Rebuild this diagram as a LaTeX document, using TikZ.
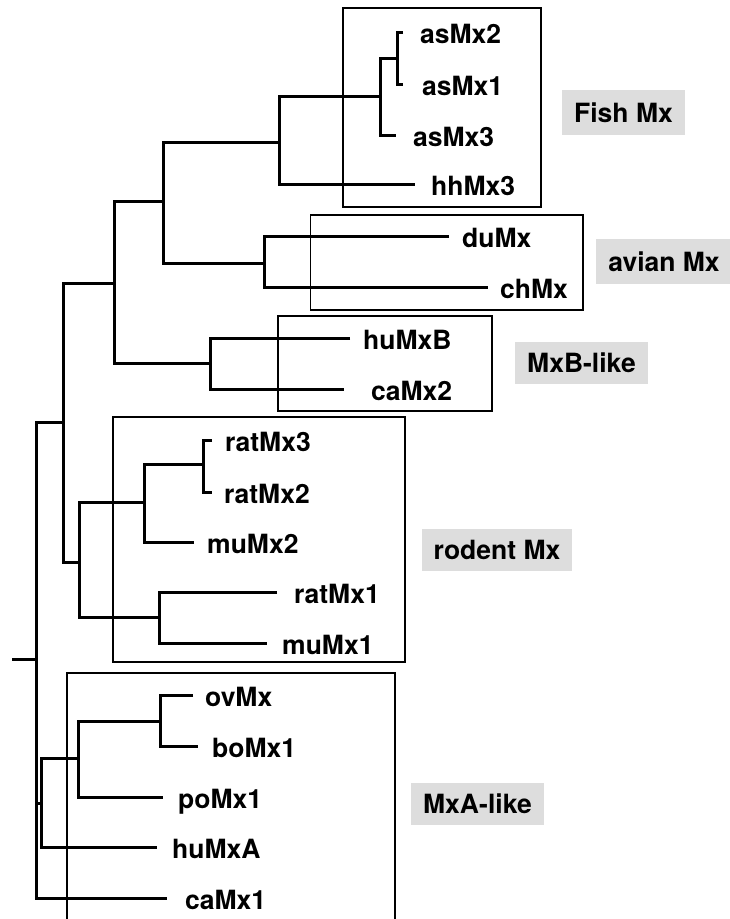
\documentclass[tikz,border=0pt]{standalone}
\usepackage{fontspec}
\setmainfont{TeX Gyre Heros}
\definecolor{labgray}{RGB}{221,221,221}
\begin{document}
\begin{tikzpicture}[x=1pt,y=-1pt,
  tree/.style={line width=3pt,line join=miter},
  clade/.style={draw,line width=1.7pt,inner sep=0pt,fill=none},
  leaf/.style={anchor=base west,inner sep=0pt,font=\fontsize{26.5}{26.5}\selectfont\bfseries},
  grouplab/.style={fill=labgray,inner sep=0pt,text height=19pt,text depth=0pt,font=\fontsize{26.5}{26.5}\selectfont\bfseries}]
\useasboundingbox (0,0) rectangle (729,919);
% clade boxes
\node[clade,minimum width=198pt,minimum height=199pt] (fishbox) at (442,107.5) {};
\node[clade,minimum width=272.5pt,minimum height=95pt] (avianbox) at (446.75,262.5) {};
\node[clade,minimum width=214pt,minimum height=95pt] (mxbbox) at (385,363.5) {};
\node[clade,minimum width=292pt,minimum height=245pt] (rodentbox) at (259,539.5) {};
\coordinate (mxaBL) at (67,925);
\coordinate (mxaTL) at (67,673);
\coordinate (mxaTR) at (395,673);
\coordinate (mxaBR) at (395,925);
\draw[line width=1.7pt] (mxaBL) -- (mxaTL) -- (mxaTR) -- (mxaBR);
% group labels
\node[grouplab,minimum width=123pt,minimum height=45pt] (fishlab) at (623.5,112.5) {Fish Mx};
\node[grouplab,minimum width=136pt,minimum height=45pt] (avianlab) at (664,261.5) {avian Mx};
\node[grouplab,minimum width=133pt,minimum height=42pt] (mxblab) at (581.5,363) {MxB-like};
\node[grouplab,minimum width=150pt,minimum height=42pt] (rodentlab) at (497,550) {rodent Mx};
\node[grouplab,minimum width=133pt,minimum height=42pt] (mxalab) at (477.5,804) {MxA-like};
% leaf labels
\node[leaf] (asMx2) at (420,43) {asMx2};
\node[leaf] (asMx1) at (422,95) {asMx1};
\node[leaf] (asMx3) at (413,146) {asMx3};
\node[leaf] (hhMx3) at (431,195) {hhMx3};
\node[leaf] (duMx) at (462,247) {duMx};
\node[leaf] (chMx) at (500,298) {chMx};
\node[leaf] (huMxB) at (363,349) {huMxB};
\node[leaf] (caMx2) at (371,400) {caMx2};
\node[leaf] (ratMx3) at (225,451) {ratMx3};
\node[leaf] (ratMx2) at (224,503) {ratMx2};
\node[leaf] (muMx2) at (207,553) {muMx2};
\node[leaf] (ratMx1) at (294,603) {ratMx1};
\node[leaf] (muMx1) at (282,654) {muMx1};
\node[leaf] (ovMx) at (205,706) {ovMx};
\node[leaf] (boMx1) at (212,757) {boMx1};
\node[leaf] (poMx1) at (178,808) {poMx1};
\node[leaf] (huMxA) at (172,858) {huMxA};
\node[leaf] (caMx1) at (185,909) {caMx1};
% leaf ends
\coordinate (e-asMx2) at (403,32);
\coordinate (e-asMx1) at (403,84);
\coordinate (e-asMx3) at (396,135);
\coordinate (e-hhMx3) at (415,184);
\coordinate (e-duMx) at (449,236);
\coordinate (e-chMx) at (488,287);
\coordinate (e-huMxB) at (350,338);
\coordinate (e-caMx2) at (344,389);
\coordinate (e-ratMx3) at (212,440);
\coordinate (e-ratMx2) at (212,492);
\coordinate (e-muMx2) at (194,542);
\coordinate (e-ratMx1) at (277,592);
\coordinate (e-muMx1) at (267,643);
\coordinate (e-ovMx) at (193,695);
\coordinate (e-boMx1) at (198,746);
\coordinate (e-poMx1) at (163,797);
\coordinate (e-huMxA) at (157,847);
\coordinate (e-caMx1) at (167,898);
% internal nodes
\coordinate (r0) at (12,659);
\coordinate (n0) at (36,659);
\coordinate (n1) at (63,422);
\coordinate (n2) at (114,283);
\coordinate (n3) at (163,201);
\coordinate (n4) at (279,142);
\coordinate (n5) at (380,96);
\coordinate (n6) at (397,58);
\coordinate (n7) at (264,263);
\coordinate (n8) at (210,363);
\coordinate (n9) at (79,562);
\coordinate (n10) at (144,502);
\coordinate (n11) at (203,464);
\coordinate (n12) at (159,617);
\coordinate (n13) at (41,803);
\coordinate (n14) at (78,758);
\coordinate (n15) at (160,721);
% tree
\draw[tree] (r0) -- (n0);
\draw[tree] (n1) -| (n0) |- (e-caMx1);
\draw[tree] (n0 |- n13) -- (n13);
\draw[tree] (n2) -| (n1) |- (n9);
\draw[tree] (n3) -| (n2) |- (n8);
\draw[tree] (n4) -| (n3) |- (n7);
\draw[tree] (n5) -| (n4) |- (e-hhMx3);
\draw[tree] (n6) -| (n5) |- (e-asMx3);
\draw[tree] (e-asMx2) -| (n6) |- (e-asMx1);
\draw[tree] (e-duMx) -| (n7) |- (e-chMx);
\draw[tree] (e-huMxB) -| (n8) |- (e-caMx2);
\draw[tree] (n10) -| (n9) |- (n12);
\draw[tree] (n11) -| (n10) |- (e-muMx2);
\draw[tree] (e-ratMx3) -| (n11) |- (e-ratMx2);
\draw[tree] (e-ratMx1) -| (n12) |- (e-muMx1);
\draw[tree] (n14) -| (n13) |- (e-huMxA);
\draw[tree] (n15) -| (n14) |- (e-poMx1);
\draw[tree] (e-ovMx) -| (n15) |- (e-boMx1);
\end{tikzpicture}
\end{document}
